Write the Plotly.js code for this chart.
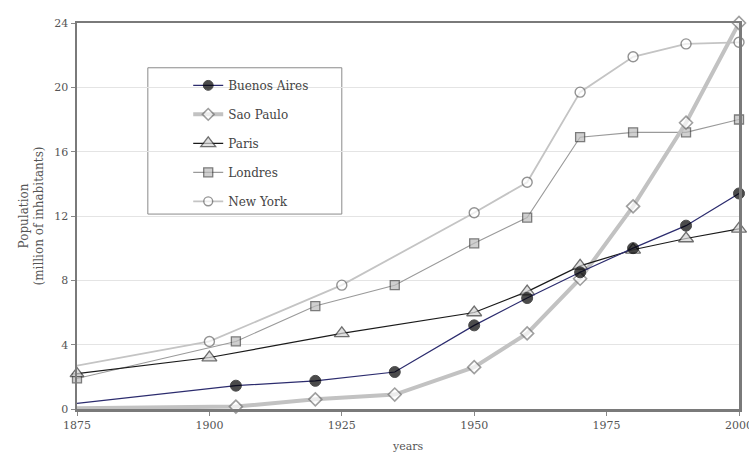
<!DOCTYPE html>
<html>
<head>
<meta charset="utf-8">
<script src="https://cdn.plot.ly/plotly-3.0.1.min.js"></script>
<style>html,body{margin:0;padding:0;background:#fff;}#chart{width:749px;height:454px;}</style>
</head>
<body>
<div id="chart"></div>
<script>
// Data (millions of inhabitants)
const baYears = [1875, 1905, 1920, 1935, 1950, 1960, 1970, 1980, 1990, 2000];
const baValues = [0.35, 1.45, 1.75, 2.3, 5.2, 6.9, 8.5, 10.0, 11.4, 13.4];

const spYears = [1875, 1905, 1920, 1935, 1950, 1960, 1970, 1980, 1990, 2000];
const spValues = [0.05, 0.15, 0.6, 0.9, 2.6, 4.7, 8.1, 12.6, 17.8, 24.0];

const parisYears = [1875, 1900, 1925, 1950, 1960, 1970, 1980, 1990, 2000];
const parisValues = [2.2, 3.2, 4.7, 6.0, 7.3, 8.9, 9.9, 10.6, 11.2];

const londonYears = [1875, 1905, 1920, 1935, 1950, 1960, 1970, 1980, 1990, 2000];
const londonValues = [1.9, 4.2, 6.4, 7.7, 10.3, 11.9, 16.9, 17.2, 17.2, 18.0];

const nyYears = [1875, 1900, 1925, 1950, 1960, 1970, 1980, 1990, 2000];
const nyValues = [2.7, 4.2, 7.7, 12.2, 14.1, 19.7, 21.9, 22.7, 22.8];

const cityNames = ["Buenos Aires", "Sao Paulo", "Paris", "Londres", "New York"];
const xTickVals = [1875, 1900, 1925, 1950, 1975, 2000];
const yTickVals = [0, 4, 8, 12, 16, 20, 24];
const xTitle = "years";
const yTitle = "Population<br>(million of inhabitants)";

function sizes(n, first, rest) {
  const a = [];
  for (let i = 0; i < n; i++) a.push(i === 0 ? first : rest);
  return a;
}

const traces = [
  {
    name: cityNames[4], x: nyYears, y: nyValues, legendrank: 5, legendgroup: "g5",
    mode: "lines+markers", cliponaxis: false,
    line: {color: "#c4c4c4", width: 1.8},
    marker: {symbol: "circle", size: sizes(nyYears.length, 0, 10), color: "#ffffff", line: {color: "#666666", width: 1.4}}
  },
  {
    name: cityNames[3], x: londonYears, y: londonValues, legendrank: 4, legendgroup: "g4",
    mode: "lines+markers", cliponaxis: false,
    line: {color: "#9a9a9a", width: 1.1},
    marker: {symbol: "square", size: sizes(londonYears.length, 9, 9), color: "#bdbdbd", line: {color: "#444444", width: 1.3}}
  },
  {
    name: cityNames[1], x: spYears, y: spValues, legendrank: 2, legendgroup: "g2",
    mode: "lines+markers", cliponaxis: false,
    line: {color: "#c2c2c2", width: 4},
    marker: {symbol: "diamond", size: sizes(spYears.length, 0, 10), color: "#ffffff", line: {color: "#777777", width: 1.6}}
  },
  {
    name: cityNames[2], x: parisYears, y: parisValues, legendrank: 3, legendgroup: "g3",
    mode: "lines+markers", cliponaxis: false,
    line: {color: "#1a1a1a", width: 1.2},
    marker: {symbol: "triangle-up", size: sizes(parisYears.length, 12, 13), color: "#d4d4d4", line: {color: "#333333", width: 1.3}}
  },
  {
    name: cityNames[0], x: baYears, y: baValues, legendrank: 1, legendgroup: "g1",
    mode: "lines+markers", cliponaxis: false,
    line: {color: "#2c2c6e", width: 1.2},
    marker: {symbol: "circle", size: sizes(baYears.length, 0, 11), color: "#000000", line: {color: "#000000", width: 1}}
  }
];

const serif = "DejaVu Serif, Liberation Serif, serif";

const layout = {
  width: 749, height: 454,
  margin: {l: 77, r: 10, t: 23, b: 45},
  paper_bgcolor: "#ffffff", plot_bgcolor: "#ffffff",
  font: {family: serif, size: 11, color: "#555555"},
  showlegend: true,
  legend: {
    x: 0.168, y: 0.876, xanchor: "left", yanchor: "top",
    bgcolor: "rgba(0,0,0,0)", borderwidth: 0,
    font: {family: serif, size: 12, color: "#444444"},
    traceorder: "grouped", tracegroupgap: 10,
    itemwidth: 30
  },
  shapes: [{
    type: "rect", xref: "paper", yref: "paper", layer: "below",
    x0: 0.107, x1: 0.400, y0: 0.505, y1: 0.884,
    line: {color: "#8a8a8a", width: 1}, fillcolor: "#ffffff"
  }],
  annotations: [{
    text: xTitle, xref: "paper", yref: "paper", x: 0.5, y: -0.097,
    xanchor: "center", yanchor: "middle", showarrow: false,
    font: {family: serif, size: 11, color: "#555555"}
  }],
  xaxis: {
    range: [1875, 2000],
    tickmode: "array", tickvals: xTickVals,
    ticks: "outside", ticklen: 4, tickcolor: "#888888",
    ticklabeloverflow: "allow",
    showgrid: false, zeroline: false,
    showline: true, mirror: true, linecolor: "#7a7a7a", linewidth: 2.5,
    tickfont: {family: serif, size: 11, color: "#555555"}
  },
  yaxis: {
    range: [0, 24],
    tickmode: "array", tickvals: yTickVals,
    ticks: "outside", ticklen: 4, tickcolor: "#888888",
    showgrid: true, gridcolor: "#e4e4e4", gridwidth: 1,
    zeroline: false,
    showline: true, mirror: true, linecolor: "#7a7a7a", linewidth: 2.5,
    tickfont: {family: serif, size: 11, color: "#555555"},
    title: {text: yTitle, font: {family: serif, size: 12, color: "#555555"}, standoff: 8}
  }
};

Plotly.newPlot("chart", traces, layout, {displayModeBar: false, staticPlot: true});
</script>
</body>
</html>
